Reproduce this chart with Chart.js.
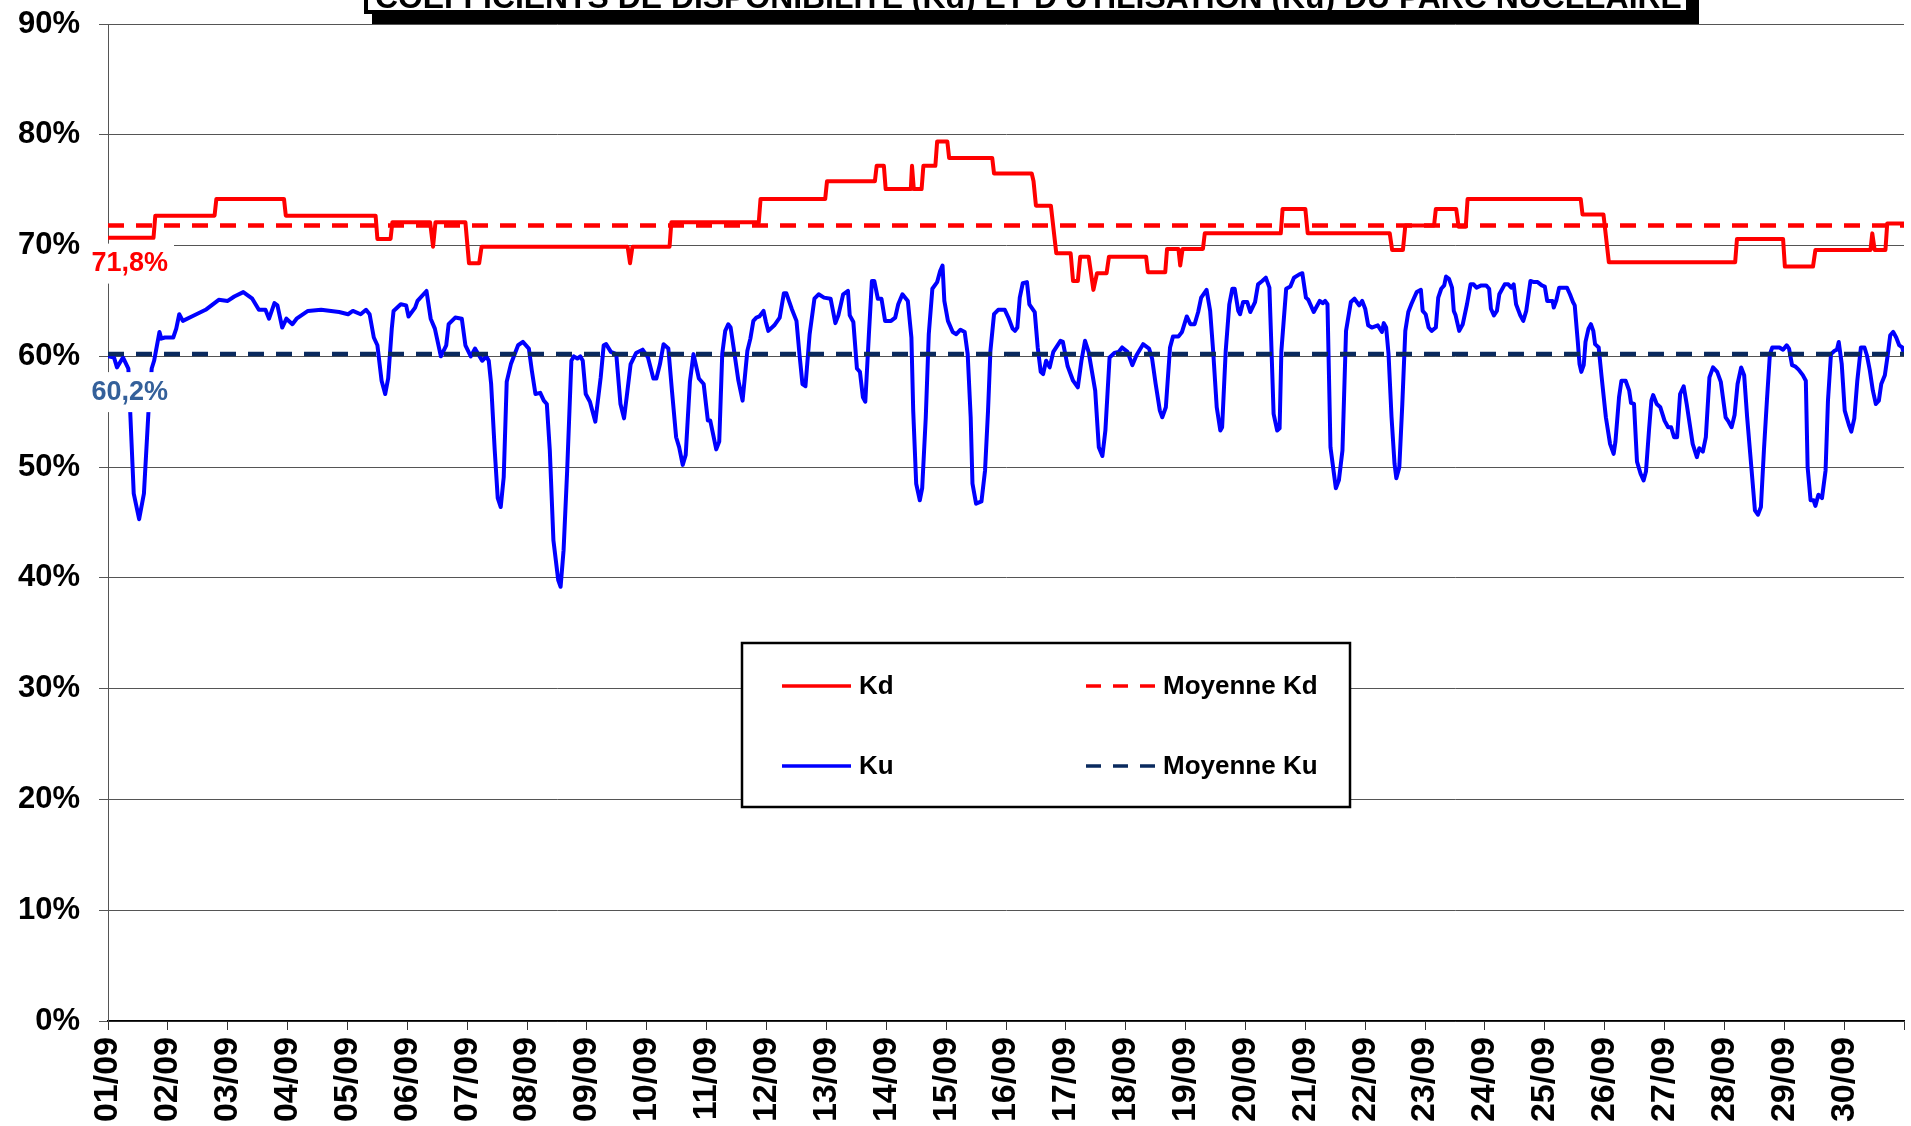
<!DOCTYPE html>
<html>
<head>
<meta charset="utf-8">
<title>Coefficients Kd / Ku</title>
<script src="https://cdn.jsdelivr.net/npm/chart.js@4.4.1/dist/chart.umd.min.js"></script>
<style>
  html, body { margin: 0; padding: 0; background: #fff; }
  canvas { display: block; }
</style>
</head>
<body>
<canvas id="chart" width="1911" height="1126"></canvas>
<script>
// --- data (x = days since 01/09 00h, y = %) ---
const titleText = "COEFFICIENTS DE DISPONIBILITE (Kd) ET D'UTILISATION (Ku) DU PARC NUCLEAIRE";

const dayLabels = ['01/09','02/09','03/09','04/09','05/09','06/09','07/09','08/09','09/09','10/09',
  '11/09','12/09','13/09','14/09','15/09','16/09','17/09','18/09','19/09','20/09',
  '21/09','22/09','23/09','24/09','25/09','26/09','27/09','28/09','29/09','30/09'];

const kdMean = 71.8;
const kuMean = 60.2;

const kd = [
  [0,70.7],[0.76,70.7],[0.79,72.7],[1.78,72.7],[1.81,74.2],[2.94,74.2],[2.97,72.7],[4.47,72.7],
  [4.5,70.6],[4.72,70.6],[4.75,72.1],[5.38,72.1],[5.43,69.9],[5.47,72.1],[5.97,72.1],[6.03,68.4],
  [6.2,68.4],[6.24,69.9],[8.68,69.9],[8.72,68.4],[8.76,69.9],[9.38,69.9],[9.41,72.1],[10.87,72.1],
  [10.9,74.2],[11.98,74.2],[12.01,75.8],[12.81,75.8],[12.84,77.2],[12.96,77.2],[12.99,75.1],
  [13.41,75.1],[13.43,77.2],[13.46,75.1],[13.59,75.1],[13.62,77.2],[13.82,77.2],[13.85,79.4],
  [14.02,79.4],[14.05,77.9],[14.77,77.9],[14.8,76.5],[15.43,76.5],[15.46,75.8],[15.5,73.6],
  [15.75,73.6],[15.84,69.3],[16.08,69.3],[16.12,66.8],[16.2,66.8],[16.24,69.0],[16.38,69.0],
  [16.46,66.0],[16.52,67.5],[16.68,67.5],[16.72,69.0],[17.34,69.0],[17.37,67.6],[17.66,67.6],
  [17.69,69.7],[17.88,69.7],[17.91,68.2],[17.95,69.7],[18.29,69.7],[18.32,71.1],[19.59,71.1],
  [19.62,73.3],[20.0,73.3],[20.04,71.1],[21.41,71.1],[21.45,69.6],[21.63,69.6],[21.67,71.8],
  [22.15,71.8],[22.18,73.3],[22.52,73.3],[22.56,71.7],[22.68,71.7],[22.71,74.2],[24.6,74.2],
  [24.63,72.8],[24.98,72.8],[25.07,68.5],[27.18,68.5],[27.21,70.6],[27.98,70.6],[28.01,68.1],
  [28.48,68.1],[28.52,69.6],[29.44,69.6],[29.47,71.1],[29.51,69.6],[29.69,69.6],[29.72,72.0],[30,72.0]
];

const ku = [
  [0,60.0],[0.1,59.9],[0.15,59.0],[0.25,59.9],[0.34,58.9],[0.43,47.6],[0.52,45.3],[0.6,47.6],
  [0.68,55.4],[0.73,58.9],[0.77,59.6],[0.86,62.2],[0.89,61.6],[0.95,61.7],[1.09,61.7],[1.14,62.5],
  [1.19,63.8],[1.25,63.2],[1.4,63.6],[1.63,64.2],[1.85,65.1],[2.0,65.0],[2.11,65.4],[2.26,65.8],
  [2.41,65.2],[2.52,64.2],[2.63,64.2],[2.69,63.4],[2.78,64.8],[2.83,64.6],[2.91,62.6],[2.98,63.4],
  [3.08,62.9],[3.15,63.4],[3.34,64.1],[3.56,64.2],[3.86,64.0],[4.01,63.8],[4.09,64.1],[4.22,63.8],
  [4.31,64.2],[4.37,63.8],[4.44,61.7],[4.5,61.0],[4.57,57.8],[4.63,56.6],[4.68,58.0],[4.74,62.5],
  [4.77,64.1],[4.89,64.7],[4.98,64.6],[5.02,63.6],[5.13,64.4],[5.17,65.0],[5.32,65.9],[5.39,63.4],
  [5.46,62.5],[5.56,60.0],[5.65,61.0],[5.69,62.9],[5.8,63.5],[5.91,63.4],[5.97,61.0],[6.06,60.0],
  [6.13,60.7],[6.25,59.6],[6.32,60.0],[6.36,59.6],[6.4,57.5],[6.46,51.5],[6.51,47.2],[6.56,46.4],
  [6.61,49.1],[6.66,57.7],[6.73,59.3],[6.85,61.0],[6.93,61.3],[7.03,60.7],[7.08,58.7],[7.14,56.6],
  [7.22,56.7],[7.28,56.0],[7.33,55.7],[7.38,51.5],[7.44,43.4],[7.52,39.8],[7.56,39.2],[7.61,42.5],
  [7.67,49.7],[7.74,59.6],[7.78,60.0],[7.84,59.8],[7.89,60.0],[7.93,59.6],[7.98,56.6],[8.05,55.9],
  [8.14,54.1],[8.23,58.1],[8.28,61.0],[8.32,61.1],[8.4,60.4],[8.49,60.2],[8.56,55.7],[8.62,54.4],
  [8.67,56.6],[8.73,59.3],[8.82,60.3],[8.93,60.6],[9.02,59.9],[9.11,58.0],[9.16,58.0],[9.22,59.3],
  [9.28,61.1],[9.36,60.7],[9.42,56.9],[9.49,52.7],[9.54,51.8],[9.6,50.2],[9.65,51.1],[9.72,57.7],
  [9.78,60.2],[9.87,58.0],[9.95,57.5],[10.02,54.2],[10.06,54.2],[10.16,51.6],[10.21,52.3],[10.26,60.2],
  [10.31,62.3],[10.36,62.9],[10.4,62.6],[10.45,60.8],[10.53,57.8],[10.6,56.0],[10.68,60.5],[10.73,61.6],
  [10.78,63.2],[10.83,63.5],[10.88,63.6],[10.95,64.1],[10.99,63.1],[11.03,62.3],[11.13,62.8],[11.22,63.5],
  [11.29,65.7],[11.33,65.7],[11.42,64.3],[11.5,63.2],[11.55,60.2],[11.6,57.5],[11.65,57.3],[11.72,62.0],
  [11.8,65.2],[11.87,65.6],[11.96,65.3],[12.07,65.2],[12.15,63.0],[12.2,63.7],[12.28,65.6],[12.36,65.9],
  [12.39,63.7],[12.45,63.1],[12.51,58.9],[12.56,58.6],[12.61,56.3],[12.65,55.9],[12.71,62.0],[12.76,66.8],
  [12.8,66.8],[12.86,65.2],[12.92,65.2],[12.98,63.2],[13.08,63.2],[13.15,63.5],[13.2,64.7],[13.27,65.6],
  [13.36,65.0],[13.42,61.7],[13.45,55.1],[13.5,48.5],[13.56,47.0],[13.6,48.1],[13.66,54.5],[13.71,62.0],
  [13.77,66.1],[13.85,66.7],[13.9,67.7],[13.94,68.2],[13.97,65.0],[14.03,63.2],[14.11,62.2],[14.17,62.0],
  [14.24,62.4],[14.31,62.2],[14.36,60.2],[14.41,54.5],[14.44,48.5],[14.5,46.7],[14.59,46.9],[14.65,49.7],
  [14.7,55.1],[14.74,60.5],[14.8,63.8],[14.87,64.2],[14.98,64.2],[15.04,63.5],[15.11,62.5],[15.15,62.3],
  [15.19,62.6],[15.23,65.3],[15.28,66.6],[15.35,66.7],[15.39,64.7],[15.48,64.0],[15.53,60.8],[15.58,58.6],
  [15.62,58.4],[15.67,59.6],[15.73,59.0],[15.79,60.4],[15.91,61.4],[15.95,61.3],[16.03,59.1],[16.12,57.8],
  [16.2,57.2],[16.26,59.6],[16.32,61.4],[16.38,60.4],[16.49,56.9],[16.55,51.8],[16.61,51.0],[16.66,53.3],
  [16.73,59.9],[16.81,60.3],[16.88,60.4],[16.94,60.8],[17.03,60.4],[17.11,59.2],[17.18,60.1],[17.29,61.1],
  [17.39,60.7],[17.44,59.8],[17.5,57.5],[17.57,55.1],[17.61,54.5],[17.67,55.4],[17.74,60.8],[17.79,61.8],
  [17.88,61.8],[17.94,62.2],[18.02,63.6],[18.08,62.9],[18.15,62.9],[18.21,64.0],[18.26,65.3],[18.35,66.0],
  [18.41,64.1],[18.46,60.5],[18.52,55.4],[18.58,53.3],[18.61,53.6],[18.67,60.5],[18.73,64.7],[18.78,66.1],
  [18.82,66.1],[18.88,64.1],[18.91,63.8],[18.96,64.9],[19.03,64.9],[19.08,64.0],[19.16,64.9],[19.21,66.5],
  [19.28,66.8],[19.34,67.1],[19.4,66.2],[19.43,61.4],[19.47,54.8],[19.53,53.3],[19.57,53.5],[19.6,60.5],
  [19.68,66.1],[19.75,66.3],[19.81,67.1],[19.9,67.4],[19.95,67.5],[20.01,65.3],[20.05,65.1],[20.14,64.0],
  [20.24,65.0],[20.29,64.8],[20.33,65.0],[20.37,64.7],[20.42,51.8],[20.51,48.1],[20.56,48.8],[20.62,51.5],
  [20.68,62.3],[20.76,64.9],[20.82,65.2],[20.9,64.6],[20.95,65.0],[21.0,64.3],[21.05,62.8],[21.11,62.6],
  [21.21,62.8],[21.28,62.2],[21.31,63.0],[21.35,62.6],[21.39,60.2],[21.44,54.5],[21.49,50.3],[21.52,49.0],
  [21.57,50.0],[21.62,55.7],[21.67,62.3],[21.72,64.0],[21.77,64.7],[21.81,65.2],[21.86,65.8],[21.93,66.0],
  [21.96,64.1],[22.01,63.8],[22.06,62.6],[22.11,62.3],[22.18,62.6],[22.22,65.3],[22.27,66.1],[22.32,66.4],
  [22.35,67.2],[22.4,67.0],[22.45,66.2],[22.48,64.1],[22.51,63.7],[22.57,62.3],[22.63,62.9],[22.7,64.7],
  [22.76,66.5],[22.81,66.5],[22.86,66.2],[22.94,66.4],[23.02,66.4],[23.07,66.1],[23.1,64.3],[23.15,63.7],
  [23.2,64.1],[23.24,65.6],[23.33,66.5],[23.39,66.5],[23.44,66.2],[23.48,66.5],[23.52,64.7],[23.59,63.7],
  [23.64,63.2],[23.69,64.1],[23.76,66.8],[23.82,66.7],[23.88,66.7],[23.95,66.4],[24.0,66.3],[24.04,65.0],
  [24.13,65.0],[24.15,64.4],[24.19,65.0],[24.24,66.2],[24.37,66.2],[24.42,65.6],[24.47,64.9],[24.5,64.6],
  [24.55,61.4],[24.58,59.3],[24.61,58.6],[24.65,59.2],[24.68,61.3],[24.73,62.5],[24.77,62.9],[24.81,62.3],
  [24.84,61.1],[24.9,60.8],[24.95,58.1],[25.02,54.5],[25.09,52.1],[25.15,51.2],[25.18,52.3],[25.24,56.3],
  [25.28,57.8],[25.35,57.8],[25.41,56.9],[25.44,55.8],[25.49,55.7],[25.54,50.5],[25.6,49.4],[25.65,48.8],
  [25.69,49.6],[25.74,53.3],[25.78,56.0],[25.81,56.5],[25.87,55.7],[25.93,55.4],[26.0,54.2],[26.06,53.6],
  [26.11,53.6],[26.16,52.7],[26.21,52.7],[26.26,56.6],[26.32,57.3],[26.37,55.7],[26.42,53.9],[26.47,52.1],
  [26.54,50.9],[26.58,51.7],[26.64,51.4],[26.69,52.7],[26.75,58.1],[26.81,59.0],[26.88,58.6],[26.94,57.7],
  [26.99,55.7],[27.02,54.5],[27.07,54.1],[27.12,53.6],[27.17,54.7],[27.22,57.5],[27.28,59.0],[27.33,58.3],
  [27.38,54.5],[27.45,50.0],[27.51,46.1],[27.56,45.7],[27.61,46.4],[27.66,51.5],[27.71,56.0],[27.76,60.2],
  [27.8,60.8],[27.92,60.8],[27.98,60.6],[28.04,61.0],[28.08,60.7],[28.13,59.2],[28.18,59.1],[28.24,58.8],
  [28.31,58.3],[28.36,57.8],[28.39,50.0],[28.44,47.0],[28.49,47.0],[28.52,46.5],[28.57,47.5],[28.63,47.2],
  [28.69,49.7],[28.73,56.0],[28.78,60.2],[28.84,60.5],[28.88,60.6],[28.91,61.3],[28.96,59.3],[29.01,55.1],
  [29.08,53.8],[29.12,53.2],[29.17,54.4],[29.22,57.8],[29.28,60.8],[29.34,60.8],[29.38,60.1],[29.43,58.7],
  [29.48,56.9],[29.53,55.7],[29.58,56.0],[29.62,57.5],[29.68,58.3],[29.73,60.2],[29.77,61.9],[29.82,62.2],
  [29.87,61.7],[29.92,61.0],[29.97,60.8],[30,60.2]
];

const FONT = '"Liberation Sans", Arial, sans-serif';
const pct = v => v.toFixed(1).replace('.', ',') + '%';

// title box, partly cut by the top edge
const titlePlugin = {
  id: 'titleBox',
  afterDraw(chart) {
    const c = chart.ctx;
    c.save();
    c.fillStyle = '#000';
    c.fillRect(372, -40, 1327, 64);
    c.fillStyle = '#fff';
    c.fillRect(364, -40, 1326, 54);
    c.strokeStyle = '#000';
    c.lineWidth = 4;
    c.strokeRect(366, -40, 1322, 52);
    c.font = 'bold 100px ' + FONT;
    const size = 100 * 1307 / c.measureText(titleText).width;
    c.font = 'bold ' + size.toFixed(1) + 'px ' + FONT;
    c.fillStyle = '#000';
    c.textBaseline = 'alphabetic';
    c.fillText(titleText, 375, 8);
    c.restore();
  }
};

// "71,8%" / "60,2%" labels under the mean lines
const meanLabels = {
  id: 'meanLabels',
  afterDatasetsDraw(chart) {
    const c = chart.ctx;
    const y = chart.scales.y;
    const items = [[kdMean, '#ff0000'], [kuMean, '#34609a']];
    c.save();
    c.font = 'bold 27px ' + FONT;
    c.textAlign = 'right';
    c.textBaseline = 'middle';
    items.forEach(([m, col]) => {
      const py = y.getPixelForValue(m) + 38;
      c.fillStyle = '#fff';
      c.fillRect(86, py - 20, 88, 40);
      c.fillStyle = col;
      c.fillText(pct(m), 168, py);
    });
    c.restore();
  }
};

// boxed legend in the middle of the plot
const legendBox = {
  id: 'legendBox',
  afterDatasetsDraw(chart) {
    const c = chart.ctx;
    const ds = chart.data.datasets;
    const slots = [[782, 686], [1086, 686], [782, 766], [1086, 766]];
    c.save();
    c.fillStyle = '#fff';
    c.fillRect(742, 643, 608, 164);
    c.strokeStyle = '#000';
    c.lineWidth = 2.5;
    c.strokeRect(742, 643, 608, 164);
    c.font = 'bold 26px ' + FONT;
    c.textBaseline = 'middle';
    ds.forEach((d, i) => {
      const [x, y] = slots[i];
      c.strokeStyle = d.borderColor;
      c.lineWidth = 3.5;
      c.setLineDash(d.borderDash ? [15, 12] : []);
      c.beginPath();
      c.moveTo(x, y);
      c.lineTo(x + 69, y);
      c.stroke();
      c.setLineDash([]);
      c.fillStyle = '#000';
      c.fillText(d.label, x + 77, y + 1);
    });
    c.restore();
  }
};

new Chart(document.getElementById('chart').getContext('2d'), {
  type: 'line',
  data: {
    datasets: [
      { label: 'Kd', data: kd, borderColor: '#ff0000', borderWidth: 4, order: 3 },
      { label: 'Moyenne Kd', data: [[0, kdMean], [30, kdMean]], borderColor: '#ff0000', borderWidth: 4.5, borderDash: [16, 12], order: 1 },
      { label: 'Ku', data: ku, borderColor: '#0000ff', borderWidth: 4, order: 2 },
      { label: 'Moyenne Ku', data: [[0, kuMean], [30, kuMean]], borderColor: '#0a2a5e', borderWidth: 4.5, borderDash: [16, 12], order: 0 }
    ]
  },
  options: {
    responsive: false,
    animation: false,
    devicePixelRatio: 1,
    elements: {
      point: { radius: 0 },
      line: { tension: 0, borderJoinStyle: 'round' }
    },
    layout: { padding: { top: 24, right: 7, left: 0, bottom: 0 } },
    plugins: {
      legend: { display: false },
      tooltip: { enabled: false },
      title: { display: false }
    },
    scales: {
      x: {
        type: 'linear',
        min: 0,
        max: 30,
        ticks: {
          stepSize: 1,
          autoSkip: false,
          maxRotation: 90,
          minRotation: 90,
          padding: 7,
          color: '#000',
          font: { family: FONT, size: 34, weight: 'bold' },
          callback: v => dayLabels[v] || ''
        },
        grid: { drawOnChartArea: false, drawTicks: true, tickLength: 9, color: '#333' },
        border: { color: '#000', width: 1.5 },
        afterFit: s => { s.height = 105; s.paddingLeft = 0; s.paddingRight = 0; }
      },
      y: {
        min: 0,
        max: 90,
        ticks: {
          stepSize: 10,
          padding: 19,
          color: '#000',
          font: { family: FONT, size: 31, weight: 'bold' },
          callback: v => v + '%'
        },
        grid: { color: '#555', tickLength: 9 },
        border: { color: '#555' },
        afterFit: s => { s.width = 108; s.paddingTop = 0; s.paddingBottom = 0; }
      }
    }
  },
  plugins: [meanLabels, legendBox, titlePlugin]
});
</script>
</body>
</html>
